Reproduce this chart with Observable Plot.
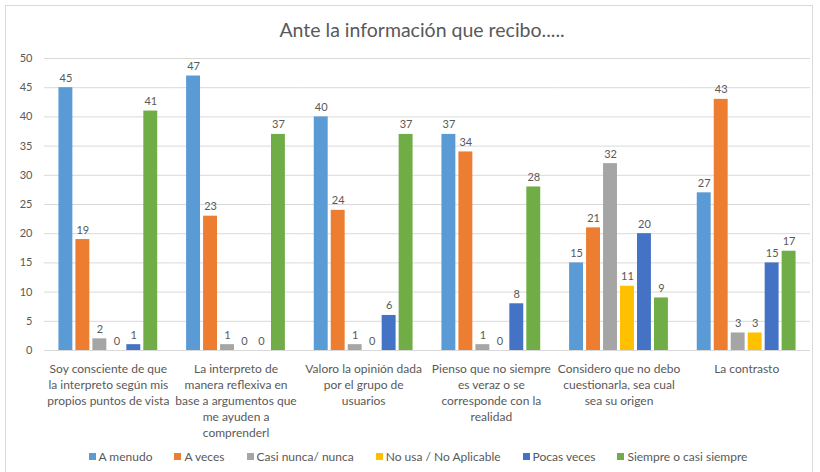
<!DOCTYPE html>
<html>
<head>
<meta charset="utf-8">
<script src="https://cdn.jsdelivr.net/npm/d3@7"></script>
<script src="https://cdn.jsdelivr.net/npm/@observablehq/plot@0.6"></script>
<style>
  html, body { margin: 0; padding: 0; background: #fff; }
  body { width: 820px; height: 472px; position: relative; overflow: hidden; font-family: Lato, "Open Sans", sans-serif; }
  #frame { position: absolute; left: 5px; top: 5px; width: 808px; height: 480px; border: 1px solid #D9D9D9; box-sizing: border-box; }
  #title { position: absolute; left: 12px; top: 18px; width: 820px; text-align: center; font-size: 19.5px; color: #595959; }
  #chart { position: absolute; left: 0; top: 45px; }
  #legend { position: absolute; left: 0; top: 449px; width: 836px; display: flex; justify-content: center; gap: 22px; font-size: 12px; color: #595959; }
  #legend span.item { display: inline-flex; align-items: center; gap: 3px; }
  #legend span.sw { display: inline-block; width: 7px; height: 7px; }
</style>
</head>
<body>
<div id="frame"></div>
<div id="title"></div>
<div id="chart"></div>
<div id="legend"></div>
<script>
const titleText = "Ante la información que recibo.....";
const categories = [
  "Soy consciente de que la interpreto según mis propios puntos de vista",
  "La interpreto de manera reflexiva en base a argumentos que me ayuden a comprenderl",
  "Valoro la opinión dada por el grupo de usuarios",
  "Pienso que no siempre es veraz o se corresponde con la realidad",
  "Considero que no debo cuestionarla, sea cual sea su origen",
  "La contrasto"
];
const categoryLines = [
  ["Soy consciente de que", "la interpreto según mis", "propios puntos de vista"],
  ["La interpreto de", "manera reflexiva en", "base a argumentos que", "me ayuden a", "comprenderl"],
  ["Valoro la opinión dada", "por el grupo de", "usuarios"],
  ["Pienso que no siempre", "es veraz o se", "corresponde con la", "realidad"],
  ["Considero que no debo", "cuestionarla, sea cual", "sea su origen"],
  ["La contrasto"]
];
const series = ["A menudo", "A veces", "Casi nunca/ nunca", "No usa / No Aplicable", "Pocas veces", "Siempre o casi siempre"];
const colors = ["#5B9BD5", "#ED7D31", "#A5A5A5", "#FFC000", "#4472C4", "#70AD47"];

const aMenudo    = [45, 47, 40, 37, 15, 27];
const aVeces     = [19, 23, 24, 34, 21, 43];
const casiNunca  = [2, 1, 1, 1, 32, 3];
const noUsa      = [0, 0, 0, 0, 11, 3];
const pocasVeces = [1, 0, 6, 8, 20, 15];
const siempre    = [41, 37, 37, 28, 9, 17];
const yTicks = [0, 5, 10, 15, 20, 25, 30, 35, 40, 45, 50];

const seriesValues = [aMenudo, aVeces, casiNunca, noUsa, pocasVeces, siempre];
const data = categories.flatMap((c, i) => series.map((s, j) => ({category: c, series: s, value: seriesValues[j][i]})));

document.getElementById("title").textContent = titleText;

const chart = Plot.plot({
  width: 820,
  height: 395,
  marginTop: 13,
  marginBottom: 90,
  marginLeft: 44,
  marginRight: 10,
  style: {fontFamily: "Lato, 'Open Sans', sans-serif", color: "#595959", background: "transparent"},
  fx: {domain: categories, padding: 0, round: false, label: null},
  x: {domain: series, paddingInner: 0.18, paddingOuter: 0.85, round: false, axis: null},
  y: {domain: [0, 50], label: null},
  color: {domain: series, range: colors},
  marks: [
    Plot.gridY(yTicks, {stroke: "#D9D9D9", strokeOpacity: 1, strokeWidth: 1}),
    Plot.axisY(yTicks, {tickSize: 0, tickPadding: 12, fontSize: 11, color: "#595959", label: null}),
    Plot.axisFx({anchor: "bottom", tickSize: 0, tickPadding: 11, fontSize: 12, lineHeight: 1.33, color: "#595959", label: null,
      tickFormat: c => categoryLines[categories.indexOf(c)].join("\n")}),
    Plot.barY(data, {fx: "category", x: "series", y: "value", fill: "series"}),
    Plot.text(data, {fx: "category", x: "series", y: "value", text: d => String(d.value), lineAnchor: "bottom", dy: -6, fill: "#595959", fontSize: 11})
  ]
});
document.getElementById("chart").appendChild(chart);

const legend = document.getElementById("legend");
series.forEach((s, i) => {
  const item = document.createElement("span");
  item.className = "item";
  const sw = document.createElement("span");
  sw.className = "sw";
  sw.style.background = colors[i];
  item.appendChild(sw);
  item.appendChild(document.createTextNode(s));
  legend.appendChild(item);
});
</script>
</body>
</html>
